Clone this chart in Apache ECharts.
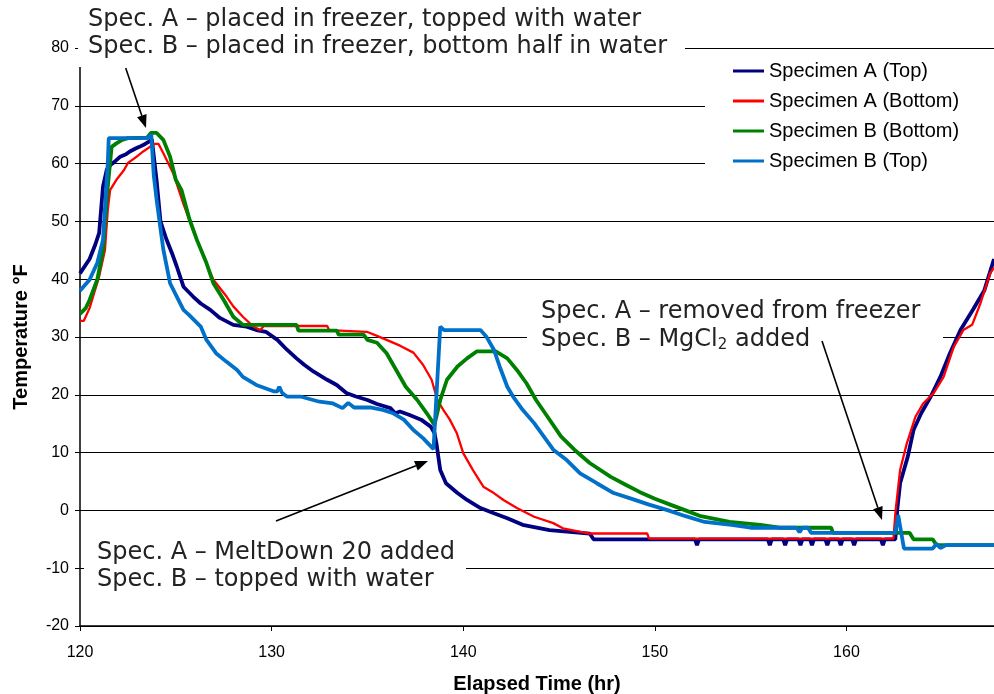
<!DOCTYPE html>
<html>
<head>
<meta charset="utf-8">
<script src="https://cdn.jsdelivr.net/npm/echarts@6/dist/echarts.min.js"></script>
<style>html,body{margin:0;padding:0;background:#fff}#c{width:994px;height:694px}</style>
</head>
<body>
<div id="c"></div>
<script>
// ---- data (elapsed time hr, temperature °F) ----
const seriesNames = ['Specimen A (Top)', 'Specimen A (Bottom)', 'Specimen B (Bottom)', 'Specimen B (Top)'];
const xTicks = [120, 130, 140, 150, 160];
const yTicks = [-20, -10, 0, 10, 20, 30, 40, 50, 60, 70, 80];

const specATop = [
  [120,41],[120.5,43.5],[120.8,46],[121.0,48],[121.2,56],[121.4,59],[121.6,59.8],[121.8,60.3],[122.1,61.2],
  [122.4,61.6],[122.6,62.1],[122.9,62.6],[123.1,62.9],[123.4,63.4],[123.6,63.8],[123.75,64.2],[124.0,57],
  [124.2,50],[124.5,47],[124.8,44.5],[125.05,42.2],[125.4,38.7],[125.9,37],[126.3,35.8],[126.8,34.7],
  [127.3,33.3],[128.0,32.1],[128.7,31.8],[129.2,31.2],[129.7,30.9],[130.3,29.5],[130.8,27.8],[131.3,26.3],
  [131.7,25.2],[132.2,24],[132.9,22.6],[133.4,21.7],[133.9,20.3],[134.4,19.7],[135.0,19.1],[135.5,18.4],
  [136.2,17.7],[136.45,16.8],[136.7,17.1],[137.2,16.5],[137.8,15.7],[138.3,14.5],[138.5,13.4],[138.6,11.6],
  [138.8,7.0],[139.1,4.7],[139.7,3.0],[140.2,1.8],[140.9,0.4],[141.6,-0.5],[142.3,-1.35],[143.1,-2.5],
  [144.5,-3.4],[146.6,-4],[146.8,-5],[152.1,-5],[152.2,-6],[152.3,-5],[155.9,-5],[156.0,-6],
  [156.1,-5],[156.7,-5],[156.8,-6],[156.9,-5],[157.5,-5],[157.6,-6],[157.7,-5],[158.1,-5],
  [158.2,-6],[158.3,-5],[158.9,-5],[159.0,-6],[159.1,-5],[159.6,-5],[159.7,-6],[159.8,-5],
  [160.3,-5],[160.4,-6],[160.5,-5],[161.8,-5],[161.9,-6],[162.0,-5],[162.55,-5],[162.65,0.1],
  [162.8,4.7],[163.2,9.3],[163.5,13.9],[163.9,16.8],[164.4,19.7],[164.9,23.1],[165.4,27.2],[165.95,31.2],
  [166.6,34.7],[167.2,38.1],[167.7,43.5]
];

const specABottom = [
  [120,32.8],[120.2,32.8],[120.5,35],[121.0,40.5],[121.3,45],[121.45,52],[121.57,55.4],[121.9,57.2],
  [122.3,58.9],[122.5,60.1],[122.96,61.2],[123.3,62.1],[123.65,62.9],[123.9,63.4],[124.1,63.4],[124.35,61.8],
  [124.87,58.3],[125.4,53],[126.3,45.1],[126.96,39.9],[127.65,37],[128.0,35.3],[128.5,33.5],[129.05,31.8],
  [129.4,31.2],[129.6,31.9],[132.9,31.9],[133.0,31.2],[134.97,30.9],[135.5,30.2],[136.0,29.5],[136.7,28.5],
  [137.4,27.3],[137.9,25.2],[138.35,22.6],[138.65,19.1],[138.96,17.4],[139.3,15.7],[139.66,13.4],[140.0,9.9],
  [140.5,7.0],[141.05,4.1],[141.6,3.0],[142.1,1.8],[142.8,0.4],[143.7,-1.1],[144.7,-2.2],[145.2,-3.1],
  [146.6,-4],[149.6,-4],[149.7,-4.9],[162.45,-4.9],[162.56,-0.2],[162.8,7],[163.15,11.6],[163.6,16.2],
  [164.0,18.5],[164.55,20.3],[165.07,23.1],[165.6,28.3],[166.1,31.2],[166.56,32.1],[166.99,35.8],[167.5,41],
  [167.7,42]
];

const specBBottom = [
  [120,34],[120.3,35],[120.5,36.4],[120.9,39.9],[121.2,45],[121.45,56],[121.65,62.9],[121.9,63.5],
  [122.2,64.1],[122.5,64.4],[123.5,64.5],[123.7,65.3],[124.0,65.3],[124.35,64.1],[124.7,61.2],[125.0,57.2],
  [125.3,55.4],[125.7,50.5],[126.1,46.8],[126.6,42.8],[126.96,39.3],[127.5,36.4],[128.0,33.5],[128.5,32.1],
  [131.3,32.1],[131.4,31.1],[133.4,31.1],[133.5,30.4],[134.8,30.4],[135.0,29.5],[135.5,29.0],[136.0,27.2],
  [136.5,24.3],[137.0,21.4],[137.6,19.1],[138.1,16.8],[138.5,14.8],[138.8,19.1],[139.15,22.6],[139.7,24.9],
  [140.2,26.3],[140.7,27.5],[141.7,27.5],[142.3,26.3],[142.8,24.3],[143.3,22],[143.8,19.1],[144.4,16.2],
  [145.1,12.8],[145.8,10.5],[146.6,8.2],[147.7,5.8],[148.5,4.4],[149.2,3.2],[150.0,2],[150.8,1],[151.6,0],
  [152.4,-1],[153.9,-2],[155.5,-2.5],[156.5,-3],[159.2,-3],[159.3,-3.9],[163.3,-3.9],[163.5,-5],[164.5,-5],
  [164.7,-6],[167.7,-6]
];

const specBTop = [
  [120,38],[120.5,39.9],[120.9,42.8],[121.2,46.8],[121.45,60],[121.5,64.4],[123.5,64.4],[123.72,65],
  [123.85,58],[124.0,53.7],[124.35,45.1],[124.7,39.3],[125.05,37],[125.4,34.7],[125.7,33.8],[126.3,31.8],
  [126.6,29.5],[127.1,27.2],[127.65,25.7],[128.2,24.3],[128.5,23.1],[129.2,21.7],[130.1,20.6],[130.3,20.6],
  [130.4,21.4],[130.55,20.3],[130.8,19.7],[131.5,19.7],[132.5,18.8],[133.2,18.5],[133.7,17.7],[134.0,18.6],
  [134.3,17.8],[135.2,17.8],[135.8,17.4],[136.35,16.8],[136.9,15.7],[137.4,13.9],[137.9,12.5],[138.45,10.6],
  [138.8,31.8],[139.0,31.2],[140.9,31.2],[141.2,30.1],[141.6,27.8],[141.9,24.9],[142.3,21.4],[142.6,19.7],
  [143.1,17.4],[143.7,15.1],[144.2,12.8],[144.7,10.5],[145.4,8.7],[146.1,6.4],[146.97,4.7],[147.85,3.0],
  [148.8,2],[149.7,1],[150.7,0],[151.6,-1],[152.6,-2],[154.0,-2.5],[155.0,-3],[157.4,-3],[157.55,-3.8],
  [157.7,-3],[158.0,-3],[158.15,-3.9],[162.55,-3.9],[162.7,-0.8],[163.0,-6.6],[164.5,-6.6],[164.7,-5.8],
  [164.9,-6.5],[165.2,-6],[167.7,-6]
];

// ---- chart ----
const colors = ['#000080', '#ff0000', '#008000', '#0070c8'];
const widths = [3.8, 2.3, 3.8, 3.8];
const datasets = [specATop, specABottom, specBBottom, specBTop];

const chart = echarts.init(document.getElementById('c'), null, {renderer: 'canvas'});

function arrow(x1, y1, x2, y2) {
  const dx = x2 - x1, dy = y2 - y1, len = Math.sqrt(dx * dx + dy * dy);
  const ux = dx / len, uy = dy / len, L = 13, W = 5;
  const bx = x2 - ux * L, by = y2 - uy * L;
  return [
    {type: 'line', z: 100, shape: {x1: x1, y1: y1, x2: bx, y2: by}, style: {stroke: '#000', lineWidth: 1.6}},
    {type: 'polygon', z: 100, shape: {points: [[x2, y2], [bx - uy * W, by + ux * W], [bx + uy * W, by - ux * W]]}, style: {fill: '#000'}}
  ];
}

const annFont = '24px "DejaVu Sans", Verdana, sans-serif';
function txt(s, x, y, rich) {
  const o = {type: 'text', z: 101, x: x, y: y, style: {text: s, font: annFont, fill: '#222', textVerticalAlign: 'middle'}};
  if (rich) o.style.rich = rich;
  return o;
}

const graphics = [
  {type: 'rect', z: 99, shape: {x: 78, y: 0, width: 607, height: 67}, style: {fill: '#fff'}},
  {type: 'rect', z: 99, shape: {x: 84, y: 533, width: 382, height: 66}, style: {fill: '#fff'}},
  {type: 'rect', z: 99, shape: {x: 527, y: 294, width: 416, height: 62}, style: {fill: '#fff'}},
  txt('Spec. A – placed in freezer, topped with water', 88, 20),
  txt('Spec. B – placed in freezer, bottom half in water', 88, 47),
  txt('Spec. A – MeltDown 20 added', 97, 553),
  txt('Spec. B – topped with water', 97, 580),
  txt('Spec. A – removed from freezer', 541, 312),
  txt('Spec. B – MgCl{sub|2} added', 541, 340, {sub: {font: '15px "DejaVu Sans", Verdana, sans-serif', fill: '#222', padding: [11, 0, 0, 0]}}),
  ...arrow(125.7, 68, 146, 128),
  ...arrow(276, 521, 428, 461),
  ...arrow(822, 341, 882, 520)
];

chart.setOption({
  backgroundColor: '#fff',
  animation: false,
  grid: {left: 80, right: 0, top: 48, bottom: 68, containLabel: false, outerBoundsMode: 'none'},
  legend: {
    data: seriesNames,
    orient: 'vertical',
    left: 705, top: 56,
    padding: [5, 60, 15, 28],
    backgroundColor: '#fff',
    icon: 'rect', itemWidth: 31, itemHeight: 3, itemGap: 10,
    textStyle: {fontFamily: '"Liberation Sans", Arial, sans-serif', fontSize: 20, color: '#000', lineHeight: 20}
  },
  xAxis: {
    type: 'value', min: xTicks[0], max: 167.7, interval: 10,
    name: 'Elapsed Time (hr)', nameLocation: 'middle', nameGap: 48,
    nameTextStyle: {fontFamily: '"Liberation Sans", Arial, sans-serif', fontWeight: 'bold', fontSize: 20, color: '#000'},
    axisLine: {onZero: false, lineStyle: {color: '#000', width: 1.5}},
    axisTick: {show: true, length: 5, lineStyle: {color: '#000'}},
    axisLabel: {fontFamily: '"Liberation Sans", Arial, sans-serif', fontSize: 16, color: '#000', margin: 19, showMaxLabel: false,
      formatter: v => xTicks.indexOf(v) >= 0 ? String(v) : ''},
    splitLine: {show: false}
  },
  yAxis: {
    type: 'value', min: yTicks[0], max: yTicks[yTicks.length - 1], interval: 10,
    name: 'Temperature °F', nameLocation: 'middle', nameGap: 49,
    nameTextStyle: {fontFamily: '"Liberation Sans", Arial, sans-serif', fontWeight: 'bold', fontSize: 20, color: '#000'},
    axisLine: {show: true, onZero: false, lineStyle: {color: '#000', width: 1.5}},
    axisTick: {show: true, length: 5, lineStyle: {color: '#000'}},
    axisLabel: {fontFamily: '"Liberation Sans", Arial, sans-serif', fontSize: 16, color: '#000', margin: 11},
    splitLine: {show: true, lineStyle: {color: '#000', width: 1}}
  },
  series: datasets.map((d, i) => ({
    name: seriesNames[i], type: 'line', data: d, symbol: 'none', showSymbol: false,
    lineStyle: {color: colors[i], width: widths[i]}, itemStyle: {color: colors[i]},
    z: 2 + i, clip: true
  })),
  graphic: graphics
});
</script>
</body>
</html>
